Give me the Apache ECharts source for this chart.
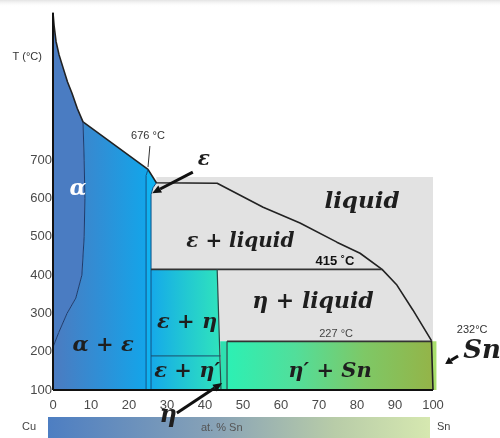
<!DOCTYPE html>
<html><head><meta charset="utf-8">
<script src="https://cdn.jsdelivr.net/npm/echarts@6/dist/echarts.min.js"></script>
<style>html,body{margin:0;padding:0;background:#fff}#c{width:500px;height:438px}</style>
</head><body><div id="c"></div>
<script>
// ---- data (at.% Sn, °C) ----
const xTickValues=[0,10,20,30,40,50,60,70,80,90,100];
const yTickValues=[100,200,300,400,500,600,700];
const liquidus=[[0,1085],[0.3,1050],[0.8,1010],[1.6,975],[2.6,943],[3.8,905],[5,875],[6.4,835],[7.9,800],[25,676],[27.2,641],[43.2,640],[55.3,577],[65,536],[74.7,486],[80.8,457],[86.6,415],[90.5,374],[94.7,309],[99.6,229]];
const alphaSolvus=[[7.9,800],[8.2,700],[8.4,600],[8.2,500],[7.6,400],[6,340],[3.7,300],[1.5,250],[0,212]];
const epsLeft=[[25,676],[24.5,660],[24.5,100]];
const epsRight=[[27.2,641],[26.3,628],[25.8,610],[25.8,100]];
const isotherm415=[[25.8,415],[86.6,415]];
const isotherm227=[[45.8,227],[99.6,227]];
const isotherm189=[[25.8,189],[44.1,189]];
const etaLeft=[[43.2,415],[44.2,100]];
const etaRight=[[45.8,227],[45.8,100]];
const snEdge=[[99.6,229],[100,100]];
const axisLeft=[[0,1085],[0,100]];
const axisBottom=[[0,100],[100,100]];

const alphaRegion=[[0,1085],[0.3,1050],[0.8,1010],[1.6,975],[2.6,943],[3.8,905],[5,875],[6.4,835],[7.9,800],[8.2,700],[8.4,600],[8.2,500],[7.6,400],[6,340],[3.7,300],[1.5,250],[0,212]];
const alphaEpsRegion=[[7.9,800],[25,676],[24.5,660],[24.5,100],[0,100],[0,212],[1.5,250],[3.7,300],[6,340],[7.6,400],[8.2,500],[8.4,600],[8.2,700]];
const epsRegion=[[24.5,660],[25,676],[27.2,641],[26.3,628],[25.8,610],[25.8,100],[24.5,100]];
const liquidRegion=[[27.2,641],[27.2,656],[100,656],[100,227],[25.8,227],[25.8,610],[26.3,628]];
const epsEtaRegion=[[25.8,415],[43.2,415],[44.2,100],[25.8,100]];
const etaRegion=[[44.0,227],[45.8,227],[45.8,100],[44.2,100]];
const etaSnRegion=[[45.8,227],[99.6,227],[100,100],[45.8,100]];
const snRegion=[[99.6,227],[100.9,227],[100.9,100],[100,100]];

const regionLabels=[
  [6.6,624,'α'],
  [81.3,590,'liquid'],
  [49.3,488,'ε + liquid'],
  [68.4,330,'η + liquid'],
  [13.2,217,'α + ε'],
  [35.3,275,'ε + η'],
  [35.3,147,'ε + η′'],
  [72.9,147,'η′ + Sn'],
  [39.7,700,'ε'],
  [112.9,202,'Sn'],
  [30.3,32,'η']
];
const tempLabels=[
  [25,763,'676 °C'],
  [74.2,437,'415 ˚C'],
  [74.5,246,'227 °C'],
  [110.3,256,'232°C'],
  [-6.8,969,'T (°C)']
];
const arrows=[
  [36.8,669,26.1,614],
  [32.6,40,44.5,118],
  [106.6,189,103.2,168]
];
const pointer676=[[25.5,737],[25,682]];

// ---- chart ----
const chart=echarts.init(document.getElementById('c'),null,{renderer:'canvas'});
const G=echarts.graphic;
function poly(pts,fill,z){
  return {type:'custom',coordinateSystem:'cartesian2d',data:[pts[0]],z:z,silent:true,clip:false,animation:false,
    renderItem:(p,api)=>({type:'polygon',shape:{points:pts.map(q=>api.coord(q))},style:{fill:fill}})};
}
function line(pts,color,width,z){
  return {type:'line',data:pts,symbol:'none',z:z,silent:true,animation:false,clip:false,lineStyle:{color:color,width:width}};
}
const SERIF='"DejaVu Serif", "Liberation Serif", serif';
const serifFont='italic bold 21px '+SERIF;
const labelStyle={
  'α':{font:'italic bold 22px '+SERIF,fill:'#ffffff'},
  'liquid':{font:'italic bold 23px '+SERIF,fill:'#1e1e1e'},
  'ε + liquid':{font:'italic bold 20px '+SERIF,fill:'#1e1e1e'},
  'η + liquid':{font:'italic bold 22px '+SERIF,fill:'#1e1e1e'},
  'ε':{font:'italic bold 20px '+SERIF,fill:'#1e1e1e'},
  'Sn':{font:'italic bold 26px '+SERIF,fill:'#1e1e1e'},
  'η':{font:'italic bold 24px '+SERIF,fill:'#1e1e1e'}
};
const tempStyle={
  '676 °C':{font:'11px "Liberation Sans", sans-serif',fill:'#333'},
  '415 ˚C':{font:'bold 13px "Liberation Sans", sans-serif',fill:'#111'},
  '227 °C':{font:'11px "Liberation Sans", sans-serif',fill:'#444'},
  '232°C':{font:'11px "Liberation Sans", sans-serif',fill:'#333'},
  'T (°C)':{font:'11px "Liberation Sans", sans-serif',fill:'#333'}
};
const hgrad=(stops)=>new G.LinearGradient(0,0,1,0,stops.map((c,i)=>({offset:i/(stops.length-1),color:c})));

const series=[
  poly(liquidRegion,'#e2e2e2',1),
  poly(alphaRegion,'#4a7cc2',2),
  poly(alphaEpsRegion,hgrad(['#4c7bc0','#2f8fd6','#12a6ea']),2),
  poly(epsRegion,'#10b2f0',3),
  poly(epsEtaRegion,hgrad(['#15a9ea','#22c8d2','#30e4bc']),3),
  poly(etaRegion,'#2fe0b0',3),
  poly(etaSnRegion,hgrad(['#2cf0b4','#52de9a','#7ec866','#94b448']),3),
  poly(snRegion,'#a8de6c',3),
  line(liquidus,'#222',1.6,10),
  line(alphaSolvus,'#1d3a6b',1,10),
  line(epsLeft,'#0d4f86',1,10),
  line(epsRight,'#0d4f86',1,10),
  line(isotherm415,'#333',1.8,10),
  line(isotherm227,'#333',1.8,10),
  line(isotherm189,'#1a4d6a',1,10),
  line(etaLeft,'#2a4a4a',1.2,10),
  line(etaRight,'#2a4a4a',1.2,10),
  line(snEdge,'#222',1.6,10),
  line(axisLeft,'#111',2,11),
  line(axisBottom,'#111',2,11),
  line(pointer676,'#333',1,11),
  {type:'custom',coordinateSystem:'cartesian2d',data:arrows.map(a=>[a[0],a[1]]),z:12,silent:true,clip:false,animation:false,
    renderItem:(p,api)=>{const a=arrows[p.dataIndex];const s=api.coord([a[0],a[1]]),e=api.coord([a[2],a[3]]);
      const dx=e[0]-s[0],dy=e[1]-s[1],L=Math.hypot(dx,dy),ux=dx/L,uy=dy/L;const hl=Math.min(9,L*0.45),hw=4;
      const bx=e[0]-ux*hl,by=e[1]-uy*hl;
      return {type:'group',children:[
        {type:'line',shape:{x1:s[0],y1:s[1],x2:bx,y2:by},style:{stroke:'#111',lineWidth:3}},
        {type:'polygon',shape:{points:[e,[bx-uy*hw,by+ux*hw],[bx+uy*hw,by-ux*hw]]},style:{fill:'#111'}}]};}},
  {type:'custom',coordinateSystem:'cartesian2d',data:regionLabels.map(l=>[l[0],l[1]]),z:13,silent:true,clip:false,animation:false,
    renderItem:(p,api)=>{const l=regionLabels[p.dataIndex];const c=api.coord([l[0],l[1]]);const st=labelStyle[l[2]]||{font:serifFont,fill:'#1e1e1e'};
      return {type:'text',x:c[0],y:c[1],style:{text:l[2],font:st.font,fill:st.fill,align:'center',verticalAlign:'middle'}};}},
  {type:'custom',coordinateSystem:'cartesian2d',data:tempLabels.map(l=>[l[0],l[1]]),z:13,silent:true,clip:false,animation:false,
    renderItem:(p,api)=>{const l=tempLabels[p.dataIndex];const c=api.coord([l[0],l[1]]);const st=tempStyle[l[2]];
      return {type:'text',x:c[0],y:c[1],style:{text:l[2],font:st.font,fill:st.fill,align:'center',verticalAlign:'middle'}};}}
];

chart.setOption({
  animation:false,
  backgroundColor:'#ffffff',
  grid:{left:53,right:67,top:7,bottom:48,containLabel:false},
  xAxis:{type:'value',min:0,max:100,interval:10,axisLine:{show:false},axisTick:{show:false},splitLine:{show:false},
    axisLabel:{color:'#4a4a4a',fontSize:13,fontFamily:'"Liberation Sans", sans-serif',margin:9,
      formatter:v=>xTickValues.includes(v)?String(v):''}},
  yAxis:{type:'value',min:100,max:1100,interval:100,axisLine:{show:false},axisTick:{show:false},splitLine:{show:false},
    axisLabel:{color:'#4a4a4a',fontSize:13,fontFamily:'"Liberation Sans", sans-serif',margin:1,
      formatter:v=>yTickValues.includes(v)?String(v):''}},
  graphic:[
    {type:'rect',left:0,top:0,shape:{width:500,height:7},style:{fill:new G.LinearGradient(0,0,0,1,[{offset:0,color:'rgba(200,200,200,0.5)'},{offset:1,color:'rgba(255,255,255,0)'}])},silent:true},
    {type:'rect',left:48,top:417,shape:{width:382,height:21},style:{fill:new G.LinearGradient(0,0,1,0,[{offset:0,color:'#4d7ec2'},{offset:0.45,color:'#8aa4b6'},{offset:0.75,color:'#b8cca8'},{offset:1,color:'#d6e8b0'}])},silent:true,z:0},
    {type:'text',left:22,top:421,style:{text:'Cu',font:'11px "Liberation Sans", sans-serif',fill:'#444'},silent:true},
    {type:'text',left:201,top:422,style:{text:'at. % Sn',font:'11px "Liberation Sans", sans-serif',fill:'#555'},silent:true},
    {type:'text',left:437,top:421,style:{text:'Sn',font:'11px "Liberation Sans", sans-serif',fill:'#444'},silent:true}
  ],
  series:series
});
</script></body></html>
